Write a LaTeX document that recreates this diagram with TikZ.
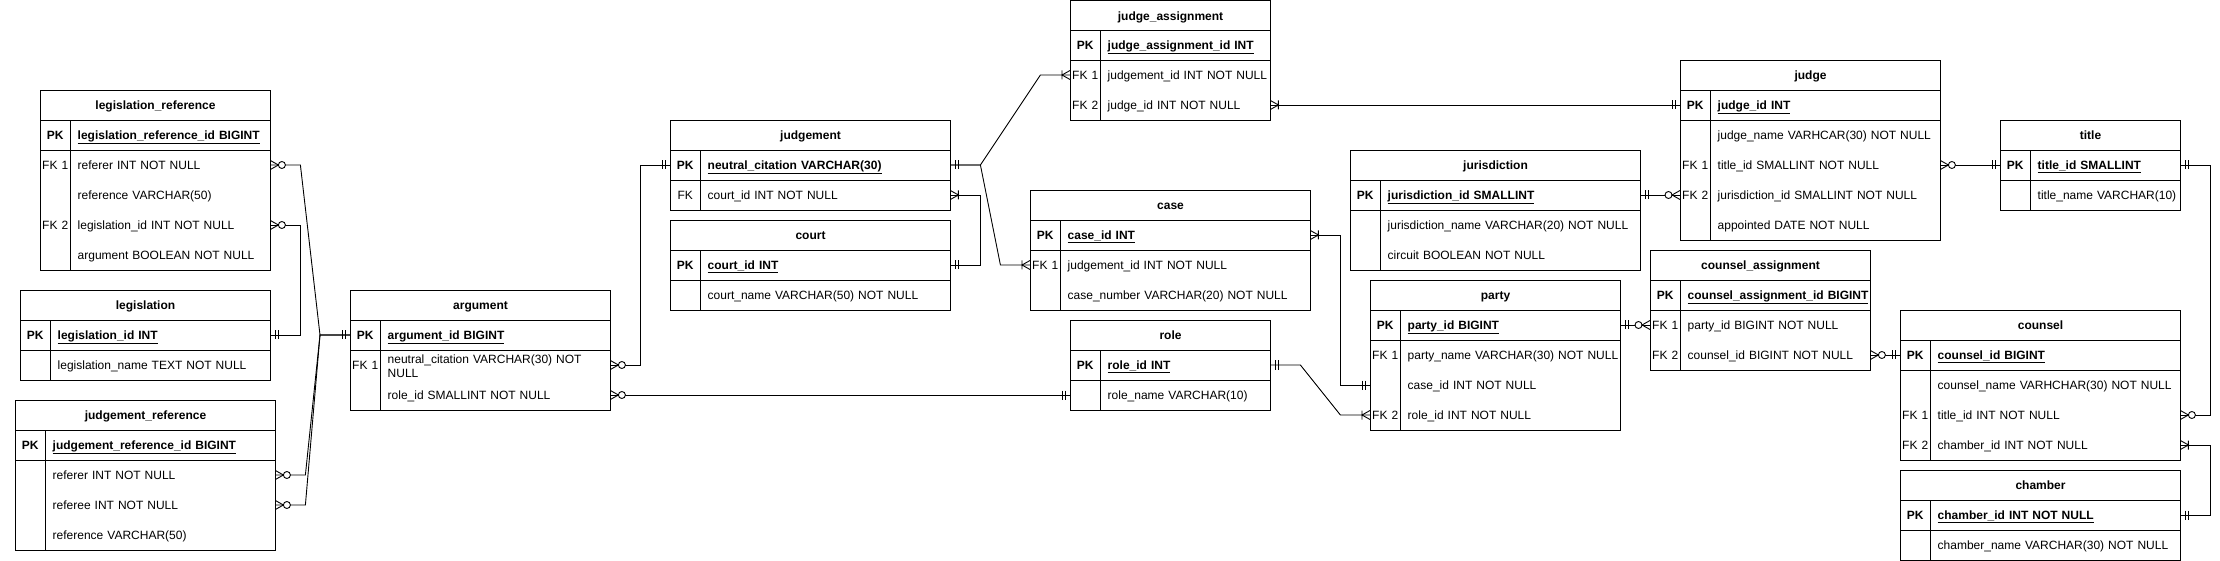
\documentclass[tikz,border=0pt]{standalone}
\usepackage{fontspec}
\setmainfont{Liberation Sans}
\usepackage{tikz}
\usetikzlibrary{decorations.markings}

\newcommand{\kc}[1]{\makebox[30pt]{#1}\hspace{7.5pt}}

\begin{document}
\begin{tikzpicture}[x=1pt,y=-1pt,font=\fontsize{12pt}{14pt}\selectfont]
\tikzset{
    thead/.style={%
        draw, line width=1pt,
        anchor=north west,
        inner sep=0pt,
        minimum height=30pt,
        text height=10.5pt, text depth=2pt,
        execute at begin node=\bfseries
        },
    tframe/.style={%
        draw, line width=1pt,
        anchor=north west,
        inner sep=0pt,
        path picture={\draw[line width=1pt]
            ([xshift=30pt]path picture bounding box.north west) -- ([xshift=30pt]path picture bounding box.south west)
            ([yshift=-30pt]path picture bounding box.north west) -- ([yshift=-30pt]path picture bounding box.north east);}
        },
    frow/.style={%
        anchor=west,
        inner sep=0pt,
        align=left,
        text height=10.5pt, text depth=2pt
        },
    pkrow/.style={frow, execute at begin node=\bfseries},
    conn/.style={line width=0.9pt},
    erst/.style={postaction={decorate,decoration={markings,mark=at position 0 with {\pic{#1};}}}},
    erend/.style={postaction={decorate,decoration={markings,mark=at position 1 with {\pic[xscale=-1]{#1};}}}},
    % ends that come back leftwards onto an east side
    erback/.style={postaction={decorate,decoration={markings,mark=at position 1 with {\pic{#1};}}}},
    one/.pic={\draw[line width=0.9pt] (5,-4.5) -- (5,4.5) (8,-4.5) -- (8,4.5);},
    many/.pic={\draw[line width=0.9pt] (0,-4.5) -- (8,0) -- (0,4.5) (8,-4.5) -- (8,4.5);},
    zmany/.pic={\draw[line width=0.9pt] (0,-4.5) -- (8,0) -- (0,4.5);
        \draw[line width=0.9pt, fill=white] (11.5,0) circle (3.5);},
}
\useasboundingbox (0,0) rectangle (2220,561);
%%%LEGISLATION_REFERENCE
\node[thead, minimum width=230pt] (lr) at (40,90) {legislation\_reference};
\node[tframe, minimum width=230pt, minimum height=150pt] (lr-fr) at (40,120) {};
\node[pkrow, text width=230pt] (lr-pk) at (40,135) {\kc{PK}\underline{legislation\_reference\_id BIGINT}};
\node[frow, text width=230pt] (lr-1) at (40,165) {\kc{FK 1}referer INT NOT NULL};
\node[frow, text width=230pt] (lr-2) at (40,195) {\kc{}reference VARCHAR(50)};
\node[frow, text width=230pt] (lr-3) at (40,225) {\kc{FK 2}legislation\_id INT NOT NULL};
\node[frow, text width=230pt] (lr-4) at (40,255) {\kc{}argument BOOLEAN NOT NULL};
%%%LEGISLATION
\node[thead, minimum width=250pt] (leg) at (20,290) {legislation};
\node[tframe, minimum width=250pt, minimum height=60pt] (leg-fr) at (20,320) {};
\node[pkrow, text width=250pt] (leg-pk) at (20,335) {\kc{PK}\underline{legislation\_id INT}};
\node[frow, text width=250pt] (leg-1) at (20,365) {\kc{}legislation\_name TEXT NOT NULL};
%%%JUDGEMENT_REFERENCE
\node[thead, minimum width=260pt] (jr) at (15,400) {judgement\_reference};
\node[tframe, minimum width=260pt, minimum height=120pt] (jr-fr) at (15,430) {};
\node[pkrow, text width=260pt] (jr-pk) at (15,445) {\kc{PK}\underline{judgement\_reference\_id BIGINT}};
\node[frow, text width=260pt] (jr-1) at (15,475) {\kc{}referer INT NOT NULL};
\node[frow, text width=260pt] (jr-2) at (15,505) {\kc{}referee INT NOT NULL};
\node[frow, text width=260pt] (jr-3) at (15,535) {\kc{}reference VARCHAR(50)};
%%%ARGUMENT
\node[thead, minimum width=260pt] (arg) at (350,290) {argument};
\node[tframe, minimum width=260pt, minimum height=90pt] (arg-fr) at (350,320) {};
\node[pkrow, text width=260pt] (arg-pk) at (350,335) {\kc{PK}\underline{argument\_id BIGINT}};
\node[frow, text width=260pt] (arg-1) at (350,365) {\kc{FK 1}\parbox[c]{214pt}{neutral\_citation VARCHAR(30) NOT\\NULL}};
\node[frow, text width=260pt] (arg-2) at (350,395) {\kc{}role\_id SMALLINT NOT NULL};
%%%JUDGEMENT
\node[thead, minimum width=280pt] (jm) at (670,120) {judgement};
\node[tframe, minimum width=280pt, minimum height=60pt] (jm-fr) at (670,150) {};
\node[pkrow, text width=280pt] (jm-pk) at (670,165) {\kc{PK}\underline{neutral\_citation VARCHAR(30)}};
\node[frow, text width=280pt] (jm-1) at (670,195) {\kc{FK}court\_id INT NOT NULL};
%%%COURT
\node[thead, minimum width=280pt] (ct) at (670,220) {court};
\node[tframe, minimum width=280pt, minimum height=60pt] (ct-fr) at (670,250) {};
\node[pkrow, text width=280pt] (ct-pk) at (670,265) {\kc{PK}\underline{court\_id INT}};
\node[frow, text width=280pt] (ct-1) at (670,295) {\kc{}court\_name VARCHAR(50) NOT NULL};
%%%JUDGE_ASSIGNMENT
\node[thead, minimum width=200pt] (ja) at (1070,0.5) {judge\_assignment};
\node[tframe, minimum width=200pt, minimum height=90pt] (ja-fr) at (1070,30) {};
\node[pkrow, text width=200pt] (ja-pk) at (1070,45) {\kc{PK}\underline{judge\_assignment\_id INT}};
\node[frow, text width=200pt] (ja-1) at (1070,75) {\kc{FK 1}judgement\_id INT NOT NULL};
\node[frow, text width=200pt] (ja-2) at (1070,105) {\kc{FK 2}judge\_id INT NOT NULL};
%%%CASE
\node[thead, minimum width=280pt] (cs) at (1030,190) {case};
\node[tframe, minimum width=280pt, minimum height=90pt] (cs-fr) at (1030,220) {};
\node[pkrow, text width=280pt] (cs-pk) at (1030,235) {\kc{PK}\underline{case\_id INT}};
\node[frow, text width=280pt] (cs-1) at (1030,265) {\kc{FK 1}judgement\_id INT NOT NULL};
\node[frow, text width=280pt] (cs-2) at (1030,295) {\kc{}case\_number VARCHAR(20) NOT NULL};
%%%ROLE
\node[thead, minimum width=200pt] (rl) at (1070,320) {role};
\node[tframe, minimum width=200pt, minimum height=60pt] (rl-fr) at (1070,350) {};
\node[pkrow, text width=200pt] (rl-pk) at (1070,365) {\kc{PK}\underline{role\_id INT}};
\node[frow, text width=200pt] (rl-1) at (1070,395) {\kc{}role\_name VARCHAR(10)};
%%%JURISDICTION
\node[thead, minimum width=290pt] (jd) at (1350,150) {jurisdiction};
\node[tframe, minimum width=290pt, minimum height=90pt] (jd-fr) at (1350,180) {};
\node[pkrow, text width=290pt] (jd-pk) at (1350,195) {\kc{PK}\underline{jurisdiction\_id SMALLINT}};
\node[frow, text width=290pt] (jd-1) at (1350,225) {\kc{}jurisdiction\_name VARCHAR(20) NOT NULL};
\node[frow, text width=290pt] (jd-2) at (1350,255) {\kc{}circuit BOOLEAN NOT NULL};
%%%PARTY
\node[thead, minimum width=250pt] (pt) at (1370,280) {party};
\node[tframe, minimum width=250pt, minimum height=120pt] (pt-fr) at (1370,310) {};
\node[pkrow, text width=250pt] (pt-pk) at (1370,325) {\kc{PK}\underline{party\_id BIGINT}};
\node[frow, text width=250pt] (pt-1) at (1370,355) {\kc{FK 1}party\_name VARCHAR(30) NOT NULL};
\node[frow, text width=250pt] (pt-2) at (1370,385) {\kc{}case\_id INT NOT NULL};
\node[frow, text width=250pt] (pt-3) at (1370,415) {\kc{FK 2}role\_id INT NOT NULL};
%%%JUDGE
\node[thead, minimum width=260pt] (jg) at (1680,60) {judge};
\node[tframe, minimum width=260pt, minimum height=150pt] (jg-fr) at (1680,90) {};
\node[pkrow, text width=260pt] (jg-pk) at (1680,105) {\kc{PK}\underline{judge\_id INT}};
\node[frow, text width=260pt] (jg-1) at (1680,135) {\kc{}judge\_name VARHCAR(30) NOT NULL};
\node[frow, text width=260pt] (jg-2) at (1680,165) {\kc{FK 1}title\_id SMALLINT NOT NULL};
\node[frow, text width=260pt] (jg-3) at (1680,195) {\kc{FK 2}jurisdiction\_id SMALLINT NOT NULL};
\node[frow, text width=260pt] (jg-4) at (1680,225) {\kc{}appointed DATE NOT NULL};
%%%COUNSEL_ASSIGNMENT
\node[thead, minimum width=220pt] (ca) at (1650,250) {counsel\_assignment};
\node[tframe, minimum width=220pt, minimum height=90pt] (ca-fr) at (1650,280) {};
\node[pkrow, text width=220pt] (ca-pk) at (1650,295) {\kc{PK}\underline{counsel\_assignment\_id BIGINT}};
\node[frow, text width=220pt] (ca-1) at (1650,325) {\kc{FK 1}party\_id BIGINT NOT NULL};
\node[frow, text width=220pt] (ca-2) at (1650,355) {\kc{FK 2}counsel\_id BIGINT NOT NULL};
%%%TITLE
\node[thead, minimum width=180pt] (tt) at (2000,120) {title};
\node[tframe, minimum width=180pt, minimum height=60pt] (tt-fr) at (2000,150) {};
\node[pkrow, text width=180pt] (tt-pk) at (2000,165) {\kc{PK}\underline{title\_id SMALLINT}};
\node[frow, text width=180pt] (tt-1) at (2000,195) {\kc{}title\_name VARCHAR(10)};
%%%COUNSEL
\node[thead, minimum width=280pt] (cn) at (1900,310) {counsel};
\node[tframe, minimum width=280pt, minimum height=120pt] (cn-fr) at (1900,340) {};
\node[pkrow, text width=280pt] (cn-pk) at (1900,355) {\kc{PK}\underline{counsel\_id BIGINT}};
\node[frow, text width=280pt] (cn-1) at (1900,385) {\kc{}counsel\_name VARHCHAR(30) NOT NULL};
\node[frow, text width=280pt] (cn-2) at (1900,415) {\kc{FK 1}title\_id INT NOT NULL};
\node[frow, text width=280pt] (cn-3) at (1900,445) {\kc{FK 2}chamber\_id INT NOT NULL};
%%%CHAMBER
\node[thead, minimum width=280pt] (ch) at (1900,470) {chamber};
\node[tframe, minimum width=280pt, minimum height=60pt] (ch-fr) at (1900,500) {};
\node[pkrow, text width=280pt] (ch-pk) at (1900,515) {\kc{PK}\underline{chamber\_id INT NOT NULL}};
\node[frow, text width=280pt] (ch-1) at (1900,545) {\kc{}chamber\_name VARCHAR(30) NOT NULL};
%%%RELATIONS
\coordinate (argin) at (320,335);
\draw[conn, erst=zmany, erend=one] (lr-1.east) -- ++(30,0) -- (argin) -- (arg-pk.west);
\draw[conn, erst=zmany, erback=one] (lr-3.east) -- ++(30,0) |- (leg-pk.east);
\draw[conn, erst=zmany, erend=one] (jr-1.east) -- ++(30,0) -- (argin) -- (arg-pk.west);
\draw[conn, erst=zmany, erend=one] (jr-2.east) -- ++(30,0) -- (argin) -- (arg-pk.west);
\draw[conn, erst=zmany, erend=one] (arg-1.east) -- ++(30,0) |- (jm-pk.west);
\draw[conn, erst=zmany, erend=one] (arg-2.east) -- (rl-1.west);
\draw[conn, erst=one, erend=many] (jm-pk.east) -- ++(30,0) -- ++(60,-90) -- (ja-1.west);
\draw[conn, erst=one, erend=many] (jm-pk.east) -- ++(30,0) -- ++(20,100) -- (cs-1.west);
\draw[conn, erst=many, erback=one] (jm-1.east) -- ++(30,0) |- (ct-pk.east);
\draw[conn, erst=many, erend=one] (ja-2.east) -- (jg-pk.west);
\draw[conn, erst=many, erend=one] (cs-pk.east) -- ++(30,0) |- (pt-2.west);
\draw[conn, erst=one, erend=many] (rl-pk.east) -- ++(30,0) -- ++(40,50) -- (pt-3.west);
\draw[conn, erst=one, erend=zmany] (jd-pk.east) -- (jg-3.west);
\draw[conn, erst=zmany, erend=one] (jg-2.east) -- (tt-pk.west);
\draw[conn, erst=one, erend=zmany] (pt-pk.east) -- (ca-1.west);
\draw[conn, erst=zmany, erend=one] (ca-2.east) -- (cn-pk.west);
\draw[conn, erst=one, erback=zmany] (tt-pk.east) -- ++(30,0) |- (cn-2.east);
\draw[conn, erst=many, erback=one] (cn-3.east) -- ++(30,0) |- (ch-pk.east);
\end{tikzpicture}
\end{document}
